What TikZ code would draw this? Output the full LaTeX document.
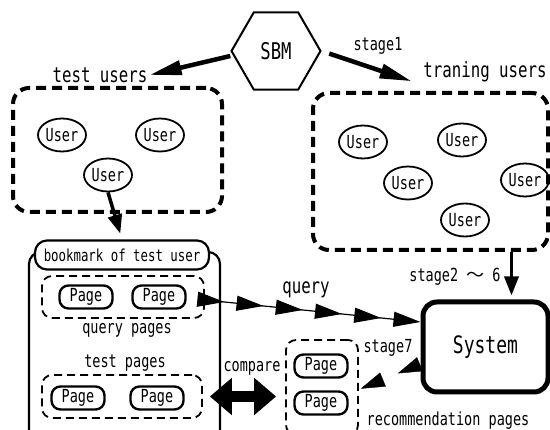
\documentclass[tikz,border=0pt]{standalone}
\usepackage{fontspec}
\setmainfont{DejaVu Sans Mono}[FakeStretch=0.75]
\newfontfamily\cjkfont{Noto Sans CJK JP}
\usetikzlibrary{arrows.meta,shapes.geometric,decorations.markings}
\tikzset{
  user/.style={ellipse, draw, line width=1.8pt, minimum width=48pt, minimum height=33pt,
               inner sep=0pt, font=\fontsize{18}{20}\selectfont},
  page/.style={rectangle, rounded corners=9pt, draw, line width=2.4pt, minimum width=53pt,
               minimum height=23pt, inner sep=0pt, font=\fontsize{18}{20}\selectfont},
  group/.style={rectangle, draw, line width=4pt, dash pattern=on 10pt off 6pt, rounded corners=16pt},
  pages/.style={rectangle, draw, line width=1.8pt, dash pattern=on 8pt off 5pt, rounded corners=10pt},
  lbl/.style={font=\fontsize{18}{20}\selectfont, inner sep=2pt},
  biglbl/.style={font=\fontsize{21}{23}\selectfont, inner sep=2pt},
  thickflow/.style={line width=4.5pt, -{Triangle[length=32pt,width=14pt]}},
  downflow/.style={line width=3.5pt, -{Triangle[length=19pt,width=14pt]}},
  qtip/.tip={Triangle[length=27pt,width=15pt]},
  rtip/.tip={Triangle[length=24pt,width=15pt]},
}

\begin{document}
\begin{tikzpicture}[x=1pt, y=-1pt]
  \clip (0,0) rectangle (550,430);
  % users
  \node[regular polygon, regular polygon sides=6, draw, line width=2pt, minimum size=89pt,
        inner sep=0pt, font=\fontsize{23}{25}\selectfont] (sbm) at (276,51) {SBM};
  \node[biglbl] (testlbl) at (100,75) {test users};
  \node[biglbl] (trainlbl) at (485,72) {traning users};
  \node[lbl] (st1) at (378,46) {stage1};
  \node[group, minimum width=209pt, minimum height=124pt] (lgroup) at (117.5,150) {};
  \node[group, minimum width=235pt, minimum height=157pt] (rgroup) at (430.5,171.5) {};
  \node[user] (u1) at (62,135) {User};
  \node[user] (u2) at (160,135) {User};
  \node[user] (u3) at (108,175) {User};
  \node[user] (t1) at (363,142) {User};
  \node[user] (t2) at (462,140) {User};
  \node[user] (t3) at (408,183) {User};
  \node[user] (t4) at (525,180) {User};
  \node[user] (t5) at (465,220) {User};
  \draw[thickflow] ([yshift=-5pt]sbm.west) -- (testlbl.east);
  \draw[thickflow, shorten <=8pt, shorten >=10pt] (sbm.east) -- (trainlbl.south west);

  % bookmark of the test user
  \draw[line width=2.2pt, rounded corners=12pt] (29,252) rectangle (220,445);
  \node[rectangle, draw, fill=white, line width=2.2pt, rounded corners=12pt, minimum width=174pt,
        minimum height=29pt, inner sep=0pt, font=\fontsize{16.5}{18}\selectfont] (mark) at (122,255)
        {bookmark of test user};
  \draw[downflow, shorten >=6pt] (u3.south) -- (mark.north);
  \node[pages, minimum width=162pt, minimum height=42pt] (qbox) at (123,297) {};
  \node[page] (p1) at (86,297) {Page};
  \node[page] (p2) at (159,297) {Page};
  \node[lbl] (qlbl) at (127,330) {query pages};
  \node[lbl] (tlbl) at (125,363) {test pages};
  \node[pages, minimum width=160pt, minimum height=43pt] (tbox) at (122,396.5) {};
  \node[page] (p3) at (78,398) {Page};
  \node[page] (p4) at (157,398) {Page};

  % system and recommendations
  \node[rectangle, draw, line width=5pt, rounded corners=14pt, minimum width=125pt,
        minimum height=90pt, font=\fontsize{24}{26}\selectfont] (sys) at (485.5,347) {System};
  \draw[downflow, shorten >=4pt] ([xshift=26pt]sys.north |- rgroup.south) -- ([xshift=26pt]sys.north);
  \node[lbl] (st26) at (455,277) {stage2 {\cjkfont 〜} 6};
  \node[pages, minimum width=72pt, minimum height=95pt] (rbox) at (322,387.5) {};
  \node[page] (p5) at (321,366) {Page};
  \node[page] (p6) at (321,403) {Page};
  \node[lbl] (rlbl) at (448,421) {recommendation pages};
  \node[lbl] (st7) at (388,348) {stage7};
  \node[biglbl] (qry) at (306,290) {query};
  \node[lbl] (cmp) at (252,368) {compare};

  \draw[line width=1.2pt, -qtip, postaction={decorate},
        decoration={markings, mark=between positions 0.09 and 0.83 step 0.182 with {\arrow{qtip}}}]
        ([yshift=-3pt]qbox.east) -- ([yshift=25pt]sys.west);
  \path[postaction={decorate},
        decoration={markings, mark=at position 0.37 with {\arrow{rtip}},
                    mark=at position 0.97 with {\arrow{rtip}}}]
        ([yshift=-17pt]sys.west) -- ([yshift=-2pt]rbox.east);
  \draw[line width=11pt, {Triangle[length=22pt,width=36pt]}-{Triangle[length=22pt,width=36pt]},
        shorten <=7pt, shorten >=9pt] (tbox.east) -- (rbox.west |- tbox.east);
\end{tikzpicture}
\end{document}
